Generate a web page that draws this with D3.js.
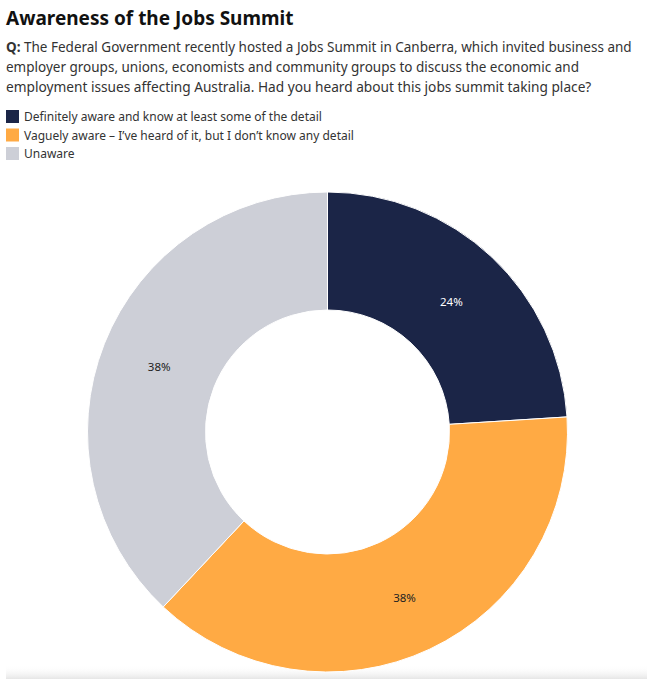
<!DOCTYPE html>
<html><head><meta charset="utf-8">
<script src="https://cdn.jsdelivr.net/npm/d3@7"></script>
<style>
body{margin:0;background:#fff;font-family:"Noto Sans",sans-serif;}
svg{display:block}
</style></head><body>
<svg id="c" width="653" height="679"></svg>
<script>
const categories = ["Definitely aware and know at least some of the detail","Vaguely aware – I’ve heard of it, but I don’t know any detail","Unaware"];
const values = [24, 38, 38];
const labels = ["24%","38%","38%"];
const colors = ["#1b2547","#ffaa44","#cdcfd7"];
const labelColors = ["#ffffff","#222222","#222222"];

const svg = d3.select("#c");
const defs = svg.append("defs");
const g = defs.append("linearGradient").attr("id","sh").attr("x1",0).attr("y1",0).attr("x2",0).attr("y2",1);
g.append("stop").attr("offset","0").attr("stop-color","#fff").attr("stop-opacity",0);
g.append("stop").attr("offset","1").attr("stop-color","#e6e6e6").attr("stop-opacity",1);
svg.append("rect").attr("x",6).attr("y",665).attr("width",641).attr("height",14).attr("fill","url(#sh)");

svg.append("text").attr("x",6).attr("y",25).attr("font-size",19).attr("font-weight","bold").attr("fill","#111")
  .attr("font-family","'Noto Sans',sans-serif").text("Awareness of the Jobs Summit");
const q = ["The Federal Government recently hosted a Jobs Summit in Canberra, which invited business and",
 "employer groups, unions, economists and community groups to discuss the economic and",
 "employment issues affecting Australia. Had you heard about this jobs summit taking place?"];
const targetW = [626, 573, 585];
q.forEach((t,i)=>{
  const tx = svg.append("text").attr("x",6).attr("y",52+i*20).attr("font-size",14.2).attr("fill","#333");
  if(i===0){ tx.append("tspan").attr("font-weight","bold").text("Q: "); }
  tx.append("tspan").text(t);
  const w = tx.node().getComputedTextLength();
  if (w > targetW[i]) tx.attr("font-size", 14.2*targetW[i]/w);
});
const leg = svg.append("g");
categories.forEach((c,i)=>{
  leg.append("rect").attr("x",6).attr("y",110+i*18.5).attr("width",13).attr("height",13).attr("fill",colors[i]);
  leg.append("text").attr("x",24).attr("y",121+i*18.5).attr("font-size",12).attr("fill","#333").text(c);
});

const cx=327.5, cy=432, R=240, r=122;
const pie = d3.pie().sort(null).value(d=>d)(values);
const arc = d3.arc().outerRadius(R).innerRadius(r);
const ch = svg.append("g").attr("transform",`translate(${cx},${cy})`);
ch.selectAll("path").data(pie).join("path").attr("d",arc).attr("fill",(d,i)=>colors[i])
  .attr("stroke","#fff").attr("stroke-width",1);
ch.selectAll("text").data(pie).join("text")
  .attr("transform",d=>{const c=arc.centroid(d);return `translate(${c[0]},${c[1]+2})`;})
  .attr("text-anchor","middle").attr("dy","0.35em").attr("font-size",11.5)
  .attr("fill",(d,i)=>labelColors[i]).text((d,i)=>labels[i]);
</script>
</body></html>
